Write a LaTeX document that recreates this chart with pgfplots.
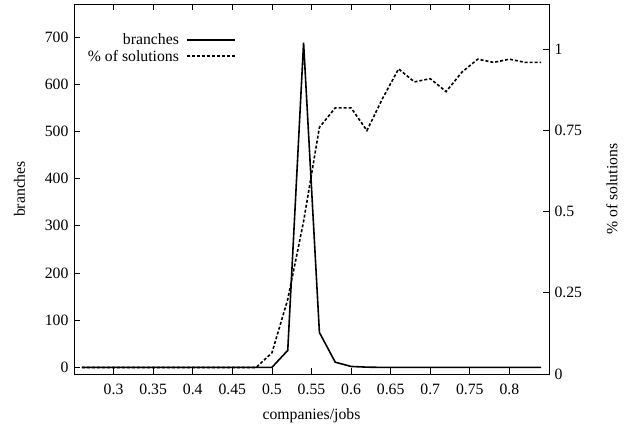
\documentclass[border=0pt]{standalone}
\usepackage{fontspec}
\setmainfont{Liberation Serif}
\usepackage{pgfplots}
\pgfplotsset{compat=1.18}
\usetikzlibrary{calc}
\pgfplotstableread{
x branches sol
0.26 0 0.02
0.28 0 0.02
0.30 0 0.02
0.32 0 0.02
0.34 0 0.02
0.36 0 0.02
0.38 0 0.02
0.40 0 0.02
0.42 0 0.02
0.44 0 0.02
0.46 0 0.02
0.48 0 0.02
0.50 0 0.065
0.52 36 0.23
0.54 688 0.47
0.56 74 0.76
0.58 11 0.82
0.60 2 0.82
0.62 0.5 0.75
0.64 0 0.85
0.66 0 0.94
0.68 0 0.90
0.70 0 0.91
0.72 0 0.87
0.74 0 0.93
0.76 0 0.97
0.78 0 0.96
0.80 0 0.97
0.82 0 0.96
0.84 0 0.96
}\data
\begin{document}
\begin{tikzpicture}[font=\fontsize{15.8}{18}\selectfont]
\pgfplotsset{
  every axis/.append style={
    scale only axis, width=475bp, height=370bp,
    xmin=0.25, xmax=0.85,
    tick align=inside, major tick length=6bp,
    axis line style={line width=0.8bp},
    every tick/.style={black, line width=0.8bp},
    /pgf/number format/assume math mode=true,
    /pgf/number format/precision=3,
  },
}
\begin{axis}[name=main,
  ymin=-14, ymax=770,
  xtick={0.3,0.35,...,0.81},
  xticklabels={0.3,0.35,0.4,0.45,0.5,0.55,0.6,0.65,0.7,0.75,0.8},
  ytick={0,100,...,700},
  ytick pos=left, xtick pos=both,
  xticklabel style={yshift=-7bp},
  yticklabel style={xshift=-2bp},
  xlabel={companies/jobs},
  ylabel={branches},
  xlabel style={at={(axis description cs:0.5,-0.114)}, anchor=center},
  ylabel style={at={(axis description cs:-0.1147,0.5)}, anchor=center},
]
\addplot[black, line width=1.6bp] table[x=x, y=branches] {\data};
\end{axis}
\begin{axis}[
  ymin=0, ymax=1.14,
  hide x axis,
  axis y line*=right,
  ytick={0,0.25,0.5,0.75,1},
  yticklabels={0,0.25,0.5,0.75,1},
  yticklabel style={xshift=2bp},
  ylabel={\% of solutions},
  ylabel style={at={(axis description cs:1.1326,0.5)}, anchor=center},
  legend cell align=right,
  legend plot pos=right,
  legend style={draw=none, fill=none, at={(axis description cs:0.3404,0.926)}, anchor=north east,
    row sep=0bp, inner sep=0pt},
  legend image code/.code={\path (0bp,0bp); \draw[#1] (5bp,0bp) -- (53bp,0bp);},
]
\addlegendimage{black, line width=1.6bp}
\addlegendentry{branches}
\addplot[black, line width=1.6bp, dash pattern=on 3bp off 2bp] table[x=x, y=sol] {\data};
\addlegendentry{\% of solutions}
\end{axis}
\pgfresetboundingbox
\path[use as bounding box] ($(main.south west)+(-74bp,-52.7bp)$) rectangle ($(main.north east)+(87bp,4bp)$);
\end{tikzpicture}
\end{document}
